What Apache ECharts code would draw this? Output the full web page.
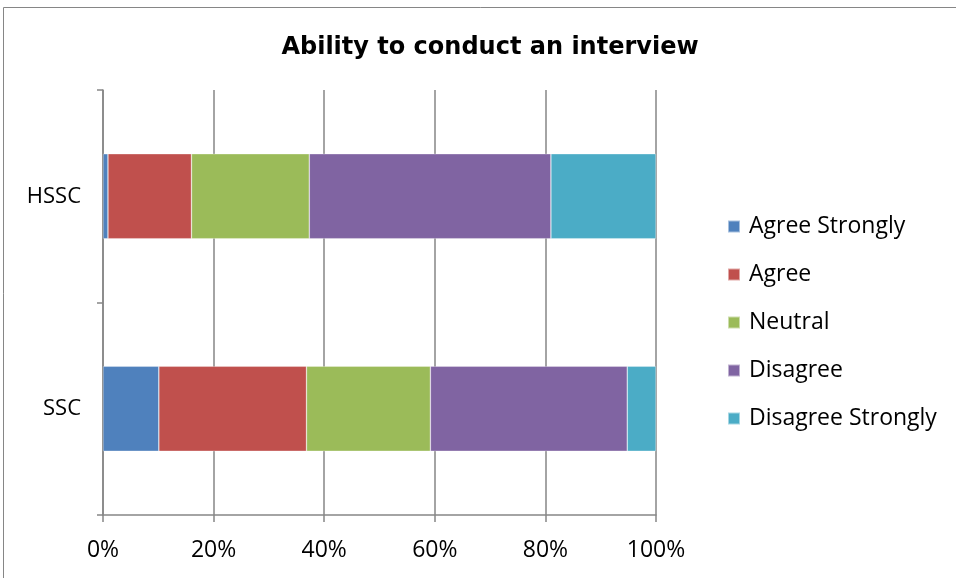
<!DOCTYPE html>
<html>
<head>
<meta charset="utf-8">
<script src="https://cdn.jsdelivr.net/npm/echarts@6/dist/echarts.min.js"></script>
<style>
  html, body { margin: 0; padding: 0; background: #fff; }
  #chart { width: 956px; height: 578px; }
</style>
</head>
<body>
<div id="chart"></div>
<script>
// data (percent of respondents)
var categories = ['SSC', 'HSSC'];
var seriesNames = ['Agree Strongly', 'Agree', 'Neutral', 'Disagree', 'Disagree Strongly'];
var agreeStrongly = [10.1, 0.9];
var agree = [26.7, 15.1];
var neutral = [22.4, 21.3];
var disagree = [35.6, 43.7];
var disagreeStrongly = [5.2, 19.0];
var colors = ['#4F81BD', '#C0504D', '#9BBB59', '#8064A2', '#4BACC6'];

var values = [agreeStrongly, agree, neutral, disagree, disagreeStrongly];
var font = '"Open Sans", Lato, sans-serif';

var mychart = echarts.init(document.getElementById('chart'));
var option = {
  animation: false,
  title: {
    text: 'Ability to conduct an interview',
    left: 485,
    textAlign: 'center',
    top: 31,
    textStyle: { fontFamily: '"DejaVu Sans", sans-serif', fontSize: 24, fontWeight: 'bold', color: '#000' }
  },
  graphic: [{
    type: 'rect',
    shape: { x: 3.5, y: 7.5, width: 1000, height: 700 },
    style: { fill: 'none', stroke: '#868686', lineWidth: 1 },
    silent: true
  }],
  legend: {
    orient: 'vertical',
    left: 722,
    top: 210,
    itemWidth: 12,
    itemHeight: 12,
    itemGap: 25,
    icon: 'rect',
    data: seriesNames,
    textStyle: { fontFamily: font, fontSize: 23, lineHeight: 23, color: '#000', padding: [0, 0, 0, 4] }
  },
  grid: { left: 103, right: 300, top: 90, bottom: 63 },
  xAxis: {
    type: 'value',
    min: 0,
    max: 100,
    interval: 20,
    axisLine: { show: true, lineStyle: { color: '#868686', width: 1.5 } },
    axisTick: { show: true, length: 7, lineStyle: { color: '#868686', width: 1.5 } },
    splitLine: { show: true, lineStyle: { color: '#868686', width: 1.5 } },
    axisLabel: {
      formatter: '{value}%',
      margin: 24,
      fontFamily: font,
      fontSize: 23,
      color: '#000'
    }
  },
  yAxis: {
    type: 'category',
    data: categories,
    axisLine: { show: true, lineStyle: { color: '#868686', width: 1.5 } },
    axisTick: { show: true, length: 6, lineStyle: { color: '#868686', width: 1.5 } },
    axisLabel: { margin: 22, fontFamily: font, fontSize: 22, color: '#000' }
  },
  series: seriesNames.map(function (name, i) {
    return {
      name: name,
      type: 'bar',
      stack: 'total',
      barCategoryGap: '60%',
      data: values[i],
      itemStyle: { color: colors[i], borderColor: 'rgba(255,255,255,0.5)', borderWidth: 0.6 }
    };
  })
};
mychart.setOption(option);
</script>
</body>
</html>
